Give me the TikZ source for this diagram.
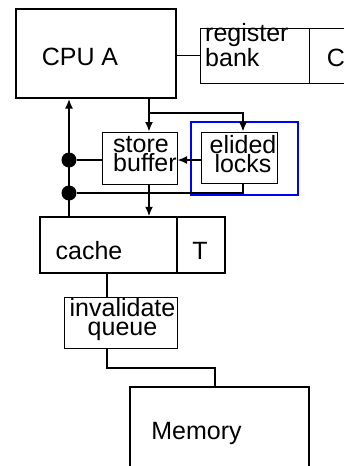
\documentclass[tikz,border=0pt]{standalone}
\usepackage{fontspec}
\setmainfont{Liberation Sans}
\usetikzlibrary{arrows.meta}
\tikzset{>={Latex[length=9.5pt,width=8pt]}}
\tikzset{
  box/.style={draw, line width=1pt, inner sep=0pt},
  midbox/.style={draw, line width=1.5pt, inner sep=0pt},
  bigbox/.style={draw, line width=2pt, inner sep=0pt},
  groupbox/.style={draw=blue, line width=2.5pt, inner sep=0pt},
  lbl/.style={inner sep=0pt, font=\fontsize{25pt}{19pt}\selectfont},
  wire/.style={line width=1.6pt},
  dot/.style={circle, fill, inner sep=0pt, minimum size=15pt}
}

\begin{document}
\begin{tikzpicture}[x=1pt,y=-1pt]
  \useasboundingbox (0,0) rectangle (344,466);
  \clip (0,0) rectangle (344,466);
  \node[bigbox, minimum width=160pt, minimum height=89pt] (cpu) at (96,53.5) {};
  \node[box, minimum width=109pt, minimum height=55pt] (regbank) at (254.5,55.5) {};
  \node[box, minimum width=50pt, minimum height=55pt] (regc) at (334,55.5) {};
  \node[groupbox, minimum width=107pt, minimum height=73pt] (lockgroup) at (244.5,158.5) {};
  \node[box, minimum width=75pt, minimum height=52pt] (store) at (139.5,158) {};
  \node[box, minimum width=76pt, minimum height=51pt] (elided) at (239,157.5) {};
  \node[midbox, minimum width=137pt, minimum height=56pt] (cache) at (108.5,245) {};
  \node[midbox, minimum width=48pt, minimum height=56pt] (cachet) at (201,245) {};
  \node[box, minimum width=113pt, minimum height=51pt] (invq) at (120.5,322.5) {};
  \node[bigbox, minimum width=179pt, minimum height=89pt] (mem) at (219.5,431.5) {};

  \node[lbl, anchor=base] (cputxt) at (80,65.5) {CPU A};
  \node[lbl, align=left, anchor=base west] (regtxt) at (205,66) {register\\bank};
  \node[lbl, anchor=base] (ctxt) at (336,66) {C};
  \node[lbl, align=left, anchor=base west] (storetxt) at (113,171.5) {store\\buffer};
  \node[lbl, align=center, anchor=base] (elidedtxt) at (243,172.5) {elided\\locks};
  \node[lbl, anchor=base] (cachetxt) at (89,259) {cache};
  \node[lbl, anchor=base] (ttxt) at (200,259) {T};
  \node[lbl, align=center, anchor=base] (invqtxt) at (122.5,335.5) {invalidate\\queue};
  \node[lbl, anchor=base] (memtxt) at (196.5,439) {Memory};

  \coordinate (upx) at (69,0);
  \coordinate (downx) at (149,0);
  \coordinate (lockx) at (243,0);
  \coordinate (qx) at (107,0);
  \coordinate (split) at (149,113);
  \coordinate (bend) at (215,368);
  \node[dot] (dota) at (69,160) {};
  \node[dot] (dotb) at (69,193) {};

  \draw[wire] (cpu.east |- regbank.west) -- (regbank.west);
  \draw[wire,->] (cache.north -| upx) -- (cpu.south -| upx);
  \draw[wire,->] (cpu.south -| downx) -- (store.north -| downx);
  \draw[wire,->] (split) -| (elided.north -| lockx);
  \draw[wire] (dota) -- (dota -| store.west);
  \draw[wire,->] (elided.west |- dota) -- (store.east |- dota);
  \draw[wire] (elided.south -| lockx) |- (dotb);
  \draw[wire,->] (store.south -| downx) -- (cache.north -| downx);
  \draw[wire] (cache.south -| qx) -- (invq.north -| qx);
  \draw[wire] (invq.south -| qx) |- (bend) -- (mem.north -| bend);
\end{tikzpicture}
\end{document}
